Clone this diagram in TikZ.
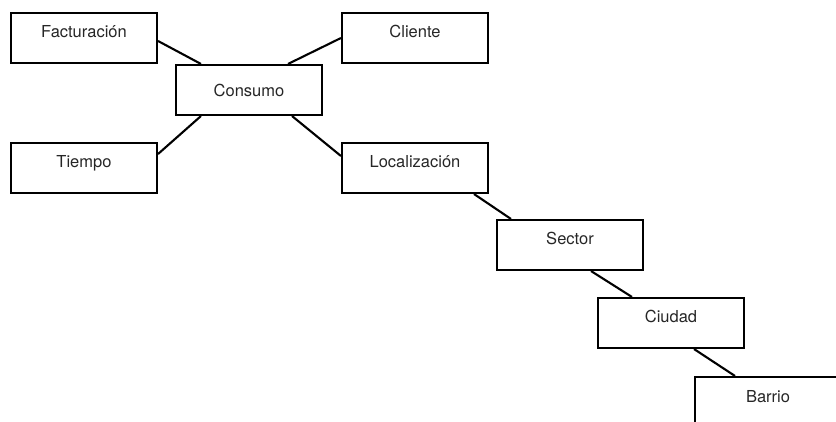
\documentclass[tikz,border=0pt]{standalone}
\usepackage{fontspec}
\setmainfont{TeX Gyre Heros}
\usepackage{tikz}

\tikzset{
  caja/.style={draw,line width=2.1pt,minimum width=146pt,minimum height=50pt,
    inner sep=0pt,text=black!85,font=\fontsize{16.5}{19}\selectfont},
  arriba/.style={text height=12pt,text depth=12pt},
  enlace/.style={line width=2.1pt}
}

\begin{document}
\begin{tikzpicture}[x=1pt,y=-1pt]
    \clip (0,0) rectangle (836,422);

    \node[caja,arriba] (fact) at (84, 38) {Facturación};
    \node[caja,arriba] (cli) at (415, 38) {Cliente};
    \node[caja] (cons) at (249, 90) {Consumo};
    \node[caja,arriba] (tiem) at (84, 168) {Tiempo};
    \node[caja,arriba] (loc) at (415, 168) {Localización};

    \node[caja,arriba] (sec) at (570, 245) {Sector};
    \node[caja,arriba] (ciu) at (671, 323) {Ciudad};
    \node[caja,arriba] (bar) at (768, 402) {Barrio};

    \draw[enlace] ([yshift=-3pt]fact.east) -- ([xshift=26pt]cons.north west);
    \draw[enlace] ([xshift=-35pt]cons.north east) -- (cli.west);
    \draw[enlace] ([xshift=26pt]cons.south west) -- ([yshift=14pt]tiem.east);
    \draw[enlace] ([xshift=-31pt]cons.south east) -- ([yshift=12pt]loc.west);

    \draw[enlace] ([xshift=-15pt]loc.south east) -- ([xshift=15pt]sec.north west);
    \draw[enlace] ([xshift=-53pt]sec.south east) -- ([xshift=35pt]ciu.north west);
    \draw[enlace] ([xshift=-51pt]ciu.south east) -- ([xshift=41pt]bar.north west);
  \end{tikzpicture}
\end{document}
